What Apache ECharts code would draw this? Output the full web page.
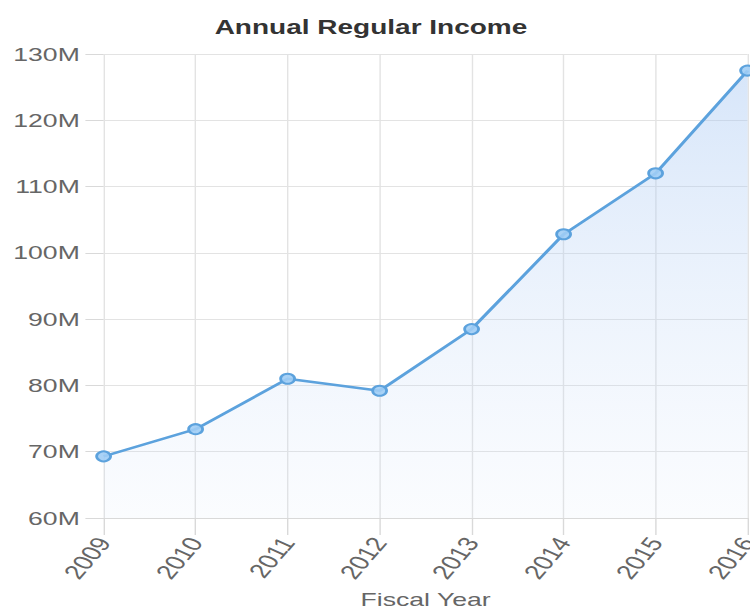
<!DOCTYPE html>
<html>
<head>
<meta charset="utf-8">
<script src="https://cdn.jsdelivr.net/npm/echarts@6/dist/echarts.min.js"></script>
<style>
html,body{margin:0;padding:0;background:#fff;overflow:hidden;}
#chart{width:536px;height:611px;transform:scaleX(1.4);transform-origin:0 0;}
</style>
</head>
<body>
<div id="chart"></div>
<script>
const chartTitle = 'Annual Regular Income';
const xAxisName = 'Fiscal Year';
const fiscalYears = ['2009','2010','2011','2012','2013','2014','2015','2016'];
const regularIncome = [69300000, 73400000, 81000000, 79200000, 88500000, 102800000, 112000000, 127500000];
const yMin = 60000000, yMax = 130000000, yStep = 10000000;

const chart = echarts.init(document.getElementById('chart'), null, {renderer:'svg'});
chart.setOption({
  animation:false,
  backgroundColor:'#fff',
  title:{
    text:chartTitle, left:260, top:12, textAlign:'center',
    textStyle:{fontFamily:'Liberation Sans, Arial, sans-serif', fontSize:20, fontWeight:'bold', color:'#333'}
  },
  grid:{left:74, right:2, top:54, bottom:93, containLabel:false, outerBoundsMode:'none'},
  xAxis:{
    type:'category', data:fiscalYears, boundaryGap:false,
    name:xAxisName, nameLocation:'middle', nameGap:72,
    nameTextStyle:{fontFamily:'Liberation Sans, Arial, sans-serif', fontSize:19, color:'#666'},
    axisLine:{show:true, lineStyle:{color:'#d9d9d9', width:1}},
    axisTick:{show:true, length:17, alignWithLabel:true, lineStyle:{color:'#d9d9d9'}},
    axisLabel:{rotate:58, margin:21, fontFamily:'Liberation Sans, Arial, sans-serif', fontSize:20, color:'#666'},
    splitLine:{show:true, lineStyle:{color:'#e3e3e3', width:1}}
  },
  yAxis:{
    type:'value', min:yMin, max:yMax, interval:yStep,
    axisLine:{show:false},
    axisTick:{show:true, length:13, lineStyle:{color:'#d9d9d9'}},
    axisLabel:{margin:17, fontFamily:'Liberation Sans, Arial, sans-serif', fontSize:19, color:'#666',
      formatter:v => (v/1000000) + 'M'},
    splitLine:{show:true, lineStyle:{color:'#e3e3e3', width:1}}
  },
  series:[{
    type:'line', data:regularIncome,
    symbol:'circle', symbolSize:10,
    lineStyle:{color:'#5ca2dd', width:2.5},
    itemStyle:{color:'rgba(160,205,245,0.9)', borderColor:'#5ca2dd', borderWidth:2},
    areaStyle:{color:new echarts.graphic.LinearGradient(0,0,0,1,[
      {offset:0, color:'rgba(160,195,242,0.6)'},
      {offset:1, color:'rgba(200,220,248,0.12)'}
    ])}
  }]
});
</script>
</body>
</html>
